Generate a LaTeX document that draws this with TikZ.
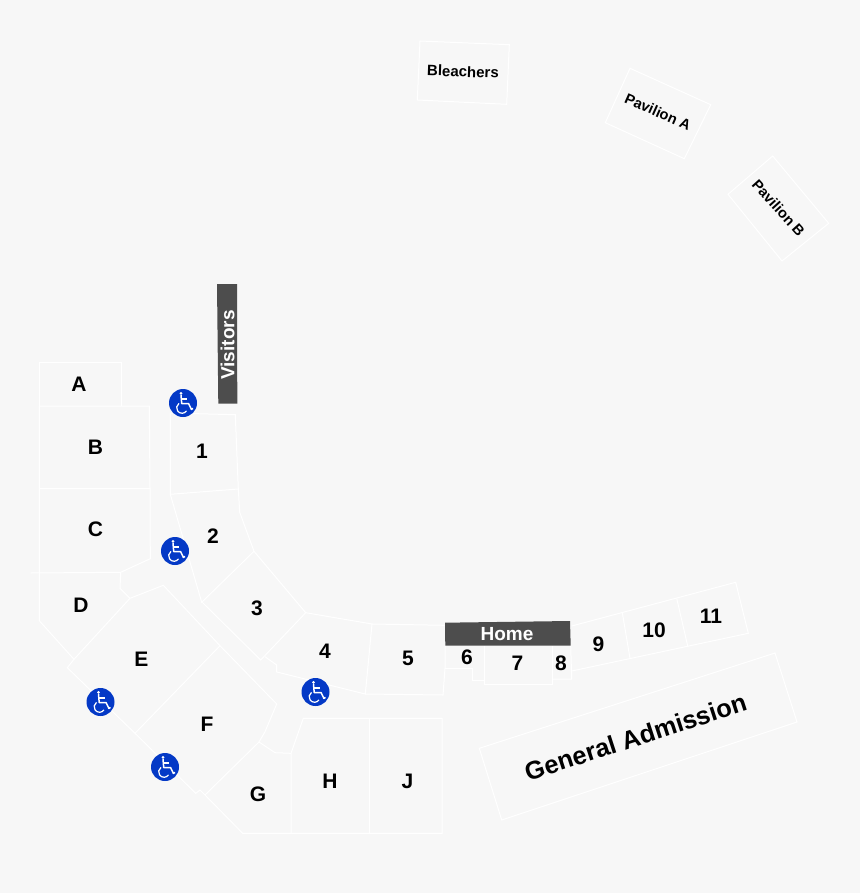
\documentclass[tikz,border=0pt]{standalone}
\usepackage{fontspec}
\usepackage{xcolor}
\setmainfont{Liberation Sans}
\usetikzlibrary{positioning}
\definecolor{cGround}{RGB}{247,247,247}
\definecolor{cBanner}{RGB}{77,77,77}
\definecolor{cAccess}{RGB}{4,57,198}
\tikzset{
	sect/.style  ={draw=white, line width=1pt, line join=miter},
	banner/.style={fill=cBanner, draw=none},
	lbl/.style   ={font=\bfseries\fontsize{21}{23}\selectfont, text=black, inner sep=0pt},
	stand/.style ={font=\bfseries\fontsize{15}{17}\selectfont, text=black, inner sep=0pt},
	btxt/.style  ={font=\bfseries\fontsize{19}{21}\selectfont, text=white, inner sep=0pt},
	access/.style={circle, fill=cAccess, minimum size=28pt, inner sep=0pt},
	chair/.pic={
		\fill[white] (-2,-9.6) circle (1.5);
		\draw[white, line width=1.5pt, line join=round] (-2,-8) -- (-1.3,0.6) -- (5.6,0.6) -- (8.4,6.4) -- (10,5.4);
		\draw[white, line width=1.2pt] (-1.6,-4) -- (4.4,-4);
		\draw[white, line width=1.2pt] (-4,0.4) arc (236:34:5.4);
	},
}
\begin{document}
\begin{tikzpicture}[x=1pt,y=-1pt]
	\useasboundingbox[fill=cGround] (0,0) rectangle (860,893);
	% outfield stands
	\draw[sect] (420,41) -- (509.3,44.7) -- (506.7,104.3) -- (417.3,100) -- cycle;
	\draw[sect] (630,68.3) -- (710.7,104.7) -- (684.3,158.7) -- (605.3,122.7) -- cycle;
	\draw[sect] (772.7,156) -- (828.7,223.3) -- (782,261) -- (728,194.3) -- cycle;
	% third base side
	\draw[sect] (39.3,406) -- (39.3,362) -- (121,362) -- (121,406);
	\draw[sect] (39.3,406) -- (149.3,406) -- (150,488);
	\draw[sect] (39.3,488.5) -- (150,488.5) -- (150.3,558.7) -- (120.7,572.3);
	\draw[sect] (30.7,573) -- (120.7,572.3) -- (120,588.3) -- (130,598.3);
	\draw[sect] (39.3,406) -- (39.3,620.7) -- (74,659.3);
	\draw[sect] (130,598.3) -- (163.3,585.3) -- (220,645.7) -- (276.7,704) -- (265,731.7) -- (259,742);
	\draw[sect] (130,598.3) -- (74,659.3) -- (67.3,667.7) -- (135,733.3) -- (195.7,793.3) -- (200,790) -- (205,795) -- (242.7,833.3) -- (442,833.3) -- (442,718.3) -- (303.3,718.3) -- (291,753.3) -- (291,833.3);
	\draw[sect] (135,733.3) -- (220,645.7);
	\draw[sect] (205,795) -- (259,742) -- (275,752.7) -- (291,753.3);
	\draw[sect] (369.3,718.3) -- (369.3,833.3);
	\draw[sect] (170.3,413) -- (235.3,414.7) -- (238.3,489) -- (170.3,494.3) -- cycle;
	\draw[sect] (170.3,494.3) -- (201.7,602.3) -- (254,551.3) -- (239.7,512.3) -- (238.3,489);
	\draw[sect] (202.3,602.3) -- (260.7,660) -- (305.7,612.7) -- (254,551.3);
	\draw[sect] (265,656.7) -- (276.7,665) -- (276.7,672) -- (365.3,694) -- (372,624) -- (305.7,612.7);
	\draw[sect] (372,624) -- (444.7,625.3);
	\draw[sect] (445,646) -- (445,668.3) -- (443,695) -- (365.3,694);
	\draw[sect] (445,668.3) -- (472.3,668.3) -- (472.3,680) -- (484,680);
	\draw[sect] (484,646) -- (484,684.3) -- (552.7,684.3) -- (552.7,646);
	\draw[sect] (552.7,679) -- (571.7,679) -- (570.7,646);
	% first base side
	\draw[sect] (571.7,626) -- (735.7,582.3) -- (748.3,633.3) -- (571.7,671);
	\draw[sect] (622.3,612.7) -- (630,658.3);
	\draw[sect] (676.7,598.3) -- (687.7,646);
	\draw[sect] (479.3,748.3) -- (775,653) -- (797,722) -- (501.7,820) -- cycle;
	% team benches
	\fill[banner] (217,284) -- (237,284) -- (237.3,403.5) -- (218.3,403.5) -- cycle;
	\fill[banner] (445,622.7) -- (570,621) -- (570.7,645.7) -- (445.3,645.7) -- cycle;
	\node[btxt, rotate=90] (visitors) at (227.5,345) {Visitors};
	\node[btxt] (home) at (507,634) {Home};
	% section labels
	\node[stand, rotate=-2] (bleachers) at (463,71.5) {Bleachers};
	\node[stand, font=\bfseries\fontsize{14.6}{17}\selectfont, rotate=-24] (paviliona) at (658,112) {Pavilion A};
	\node[stand, font=\bfseries\fontsize{14.6}{17}\selectfont, rotate=-48] (pavilionb) at (778.5,208) {Pavilion B};
	\node[lbl, font=\bfseries\fontsize{25.4}{28}\selectfont, rotate=18] (ga) at (635.5,737) {General Admission};
	\foreach \nm/\px/\py in {A/79/384.5, B/95.5/447.5, C/95.5/529.5, D/81/605.5, E/141.5/659.5, F/207/724.5, G/258/794.5, H/330/781.5, J/407.5/781.5, 1/202/451.5, 2/213/536.5, 3/257/608.5, 4/325/651.5, 5/408/658.5, 6/467/657.5, 7/517.5/663.5, 8/561/663.5, 9/598.5/644.5, 10/654/630.5, 11/711/616.5}
		\node[lbl] (sec\nm) at (\px,\py) {\nm};
	% wheelchair seating
	\foreach \idx/\px/\py in {1/183/403, 2/175/551, 3/100.5/702, 4/165/767, 5/315.5/692} {
		\node[access] (acc\idx) at (\px,\py) {};
		\pic at (acc\idx) {chair};
	}
\end{tikzpicture}
\end{document}
